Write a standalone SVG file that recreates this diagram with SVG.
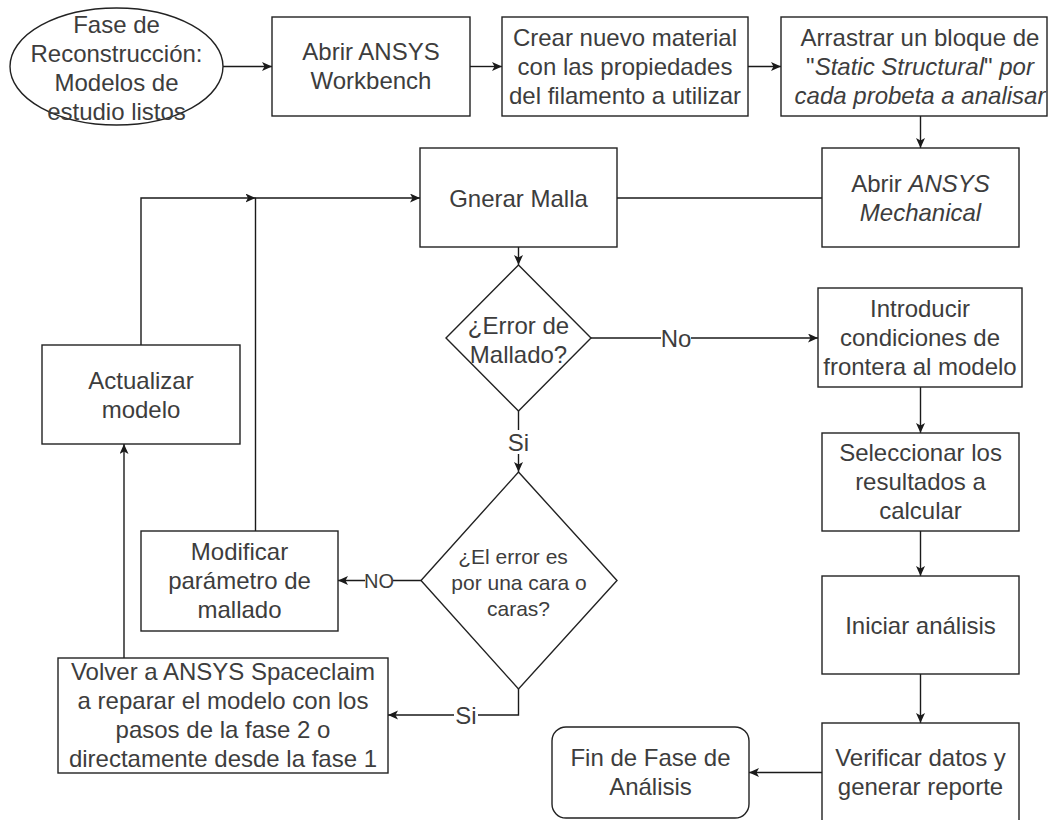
<svg xmlns="http://www.w3.org/2000/svg" width="1049" height="820" viewBox="0 0 1049 820">
  <defs>
    <marker id="arrow" markerUnits="userSpaceOnUse" markerWidth="11" markerHeight="10" refX="10" refY="4.5" orient="auto">
      <path d="M0,0 L10,4.5 L0,9 L2.5,4.5 Z" fill="#1a1a1a"/>
    </marker>
  </defs>
  <style>
    .shape { fill: #ffffff; stroke: #222222; stroke-width: 1.4; }
    .edge { fill: none; stroke: #1a1a1a; stroke-width: 1.4; marker-end: url(#arrow); }
    text { font-family: "Liberation Sans", Arial, Helvetica, sans-serif; font-size: 24px; fill: #3d3d3d; text-anchor: middle; }
    .small { font-size: 21px; }
    .lbl { font-size: 20px; }
    .it { font-style: italic; }
    .lblbg { fill: #ffffff; stroke: none; }
  </style>

  <rect x="0" y="0" width="1049" height="820" fill="#ffffff"/>

  <!-- connectors -->
  <g id="connectors">
    <path class="edge" d="M223,66.5 H272"/>
    <path class="edge" d="M470,66.5 H502"/>
    <path class="edge" d="M748,66.5 H781"/>
    <path class="edge" d="M920.5,116 V148"/>
    <path class="edge" d="M822,198 H420"/>
    <path class="edge" d="M518.5,247 V265"/>
    <path class="edge" d="M591,338 H818"/>
    <path class="edge" d="M518.5,411 V472"/>
    <path class="edge" d="M421,580.5 H338"/>
    <path class="edge" d="M518.5,689 V715 H388"/>
    <path class="edge" d="M124,658 V444"/>
    <path class="edge" d="M141,345 V198 H255.5"/>
    <path class="edge" d="M255.5,531 V198 H420"/>
    <path class="edge" d="M920.5,387 V433"/>
    <path class="edge" d="M920.5,531 V576"/>
    <path class="edge" d="M920.5,674 V723"/>
    <path class="edge" d="M822,772.5 H749"/>
    <!-- edge labels -->
    <rect class="lblbg" x="661" y="326" width="30" height="24"/>
    <text x="676" y="346.5">No</text>
    <rect class="lblbg" x="507" y="430" width="24" height="24"/>
    <text x="518.5" y="450.5">Si</text>
    <rect class="lblbg" x="365" y="570" width="28" height="21"/>
    <text class="lbl" x="379" y="588">NO</text>
    <rect class="lblbg" x="454" y="704" width="24" height="24"/>
    <text x="466" y="723.5">Si</text>
  </g>

  <g id="start">
    <ellipse class="shape" cx="116.5" cy="66.5" rx="106.5" ry="58.5"/>
    <text x="116.5" y="33">Fase de</text>
    <text x="116.5" y="62">Reconstrucción:</text>
    <text x="116.5" y="91">Modelos de</text>
    <text x="116.5" y="120">estudio listos</text>
  </g>

  <g id="abrir-workbench">
    <rect class="shape" x="272" y="17" width="198" height="99"/>
    <text x="371" y="60">Abrir ANSYS</text>
    <text x="371" y="89">Workbench</text>
  </g>

  <g id="crear-material">
    <rect class="shape" x="502" y="17" width="246" height="99"/>
    <text x="625" y="46">Crear nuevo material</text>
    <text x="625" y="75">con las propiedades</text>
    <text x="625" y="104">del filamento a utilizar</text>
  </g>

  <g id="arrastrar-bloque">
    <rect class="shape" x="781" y="17" width="266" height="99"/>
    <text x="920" y="46">Arrastrar un bloque de</text>
    <text x="920" y="75">"<tspan class="it">Static Structural</tspan>" <tspan class="it">por</tspan></text>
    <text x="920" y="104" class="it">cada probeta a analisar</text>
  </g>

  <g id="abrir-mechanical">
    <rect class="shape" x="822" y="148" width="197" height="99"/>
    <text x="920.5" y="191.5">Abrir <tspan class="it">ANSYS</tspan></text>
    <text x="920.5" y="220.5" class="it">Mechanical</text>
  </g>

  <g id="generar-malla">
    <rect class="shape" x="420" y="148" width="197" height="99"/>
    <text x="518.5" y="206.5">Gnerar Malla</text>
  </g>

  <g id="error-mallado">
    <polygon class="shape" points="518.5,265 591,338 518.5,411 446,338"/>
    <text x="518.5" y="334">¿Error de</text>
    <text x="518.5" y="363">Mallado?</text>
  </g>

  <g id="introducir-condiciones">
    <rect class="shape" x="818" y="288" width="204" height="99"/>
    <text x="920" y="317">Introducir</text>
    <text x="920" y="346">condiciones de</text>
    <text x="920" y="375">frontera al modelo</text>
  </g>

  <g id="seleccionar-resultados">
    <rect class="shape" x="822" y="433" width="197" height="98"/>
    <text x="920.5" y="461">Seleccionar los</text>
    <text x="920.5" y="490">resultados a</text>
    <text x="920.5" y="519">calcular</text>
  </g>

  <g id="iniciar-analisis">
    <rect class="shape" x="822" y="576" width="197" height="98"/>
    <text x="920.5" y="633.5">Iniciar análisis</text>
  </g>

  <g id="verificar-datos">
    <rect class="shape" x="822" y="723" width="197" height="99"/>
    <text x="920.5" y="766">Verificar datos y</text>
    <text x="920.5" y="795">generar reporte</text>
  </g>

  <g id="fin-analisis">
    <rect class="shape" x="552" y="727" width="197" height="91" rx="14" ry="14"/>
    <text x="650.5" y="766">Fin de Fase de</text>
    <text x="650.5" y="795">Análisis</text>
  </g>

  <g id="error-cara">
    <polygon class="shape" points="518.5,472 617,580.5 518.5,689 421,580.5"/>
    <text class="small" x="513" y="564">¿El error es</text>
    <text class="small" x="519" y="590">por una cara o</text>
    <text class="small" x="518.5" y="616">caras?</text>
  </g>

  <g id="modificar-parametro">
    <rect class="shape" x="141" y="531" width="197" height="100"/>
    <text x="239.5" y="560">Modificar</text>
    <text x="239.5" y="589">parámetro de</text>
    <text x="239.5" y="618">mallado</text>
  </g>

  <g id="actualizar-modelo">
    <rect class="shape" x="42" y="345" width="198" height="99"/>
    <text x="141" y="389">Actualizar</text>
    <text x="141" y="418">modelo</text>
  </g>

  <g id="volver-spaceclaim">
    <rect class="shape" x="58" y="658" width="330" height="115"/>
    <text x="223" y="680">Volver a ANSYS Spaceclaim</text>
    <text x="223" y="709">a reparar el modelo con los</text>
    <text x="223" y="738">pasos de la fase 2 o</text>
    <text x="223" y="767">directamente desde la fase 1</text>
  </g>
</svg>
